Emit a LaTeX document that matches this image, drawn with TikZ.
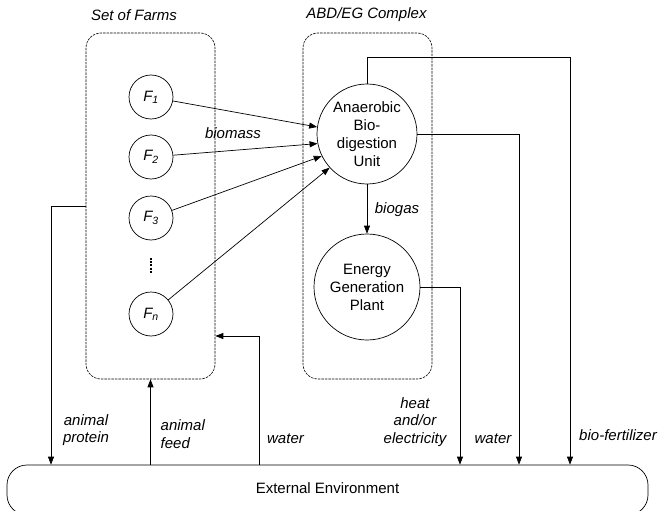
\documentclass[tikz,border=0pt]{standalone}
\usepackage{fontspec}
\setmainfont{Liberation Sans}
\usetikzlibrary{arrows.meta}

\begin{document}
\begin{tikzpicture}[x=1pt, y=-1pt, line width=0.7pt, font=\fontsize{15}{18}\selectfont,
    farm/.style={circle, draw, minimum size=44pt, inner sep=0pt, font=\fontsize{15}{18}\selectfont\itshape},
    unit/.style={circle, draw, align=center, inner sep=0pt},
    group/.style={draw, dash pattern=on 2.5pt off 1pt, line width=0.6pt, rounded corners=15pt,
        minimum width=129pt, minimum height=346pt},
    flow/.style={-{Triangle[length=8pt,width=6pt]}},
    lbl/.style={font=\fontsize{15}{17.5}\selectfont\itshape, align=center}]
                \useasboundingbox (0,0) rectangle (659,511);
                \clip (0,0) rectangle (659,511);
                \node[group] (farms) at (150.5,206) {};
                \node[group] (abd) at (367.5,206) {};
                \node[lbl] (farmstitle) at (134,15) {Set of Farms};
                \node[lbl] (abdtitle) at (366.5,15) {ABD/EG Complex};
                \node[farm] (f1) at (151,97) {F\textsubscript{1}};
                \node[farm] (f2) at (151,157) {F\textsubscript{2}};
                \node[farm] (f3) at (151,218) {F\textsubscript{3}};
                \node[farm] (fn) at (151,314) {F\textsubscript{n}};
                \draw[line width=2.5pt, dash pattern=on 2pt off 1.2pt] (151,258) -- (151,273);
                \node[unit, minimum size=100pt] (adu) at (367,134) {Anaerobic\\Bio-\\digestion\\Unit};
                \node[unit, minimum size=106pt] (egp) at (367,287) {Energy\\Generation\\Plant};
                \node[draw, rounded corners=20pt, minimum width=641pt, minimum height=50pt,
                    text depth=4pt] (env) at (327.5,490) {External Environment};
                \coordinate (prot) at (51,0);
                \coordinate (win) at (259,336);
                \coordinate (heat) at (460,0);
                \coordinate (wout) at (519,0);
                \coordinate (fert) at (570,57);
                \draw[flow] (f1) -- (adu.172);
                \draw[flow] (f2) -- (adu.191);
                \draw[flow] (f3) -- (adu.206);
                \draw[flow] (fn) -- (adu.222);
                \draw[flow] (adu) -- (egp);
                \draw[flow] (adu.north) |- (fert) -- (fert |- env.north);
                \draw[flow] (adu.east) -| (wout |- env.north);
                \draw[flow] (egp.east) -| (heat |- env.north);
                \draw[flow] (farms.west) -| (prot |- env.north);
                \draw[flow] (env.north -| farms.south) -- (farms.south);
                \draw[flow] (win |- env.north) |- (farms.east |- win);
                \node[lbl] (biomass) at (233,133) {biomass};
                \node[lbl] (biogas) at (397,210) {biogas};
                \node[lbl] (protein) at (86,430) {animal\\protein};
                \node[lbl, align=left, anchor=west] (feed) at (157,434) {animal\\feed};
                \node[lbl] (waterin) at (285.5,439) {water};
                \node[lbl] (power) at (415,422) {heat\\and/or\\electricity};
                \node[lbl] (waterout) at (493,439) {water};
                \node[lbl] (biofert) at (618,435) {bio-fertilizer};
            \end{tikzpicture}
\end{document}
